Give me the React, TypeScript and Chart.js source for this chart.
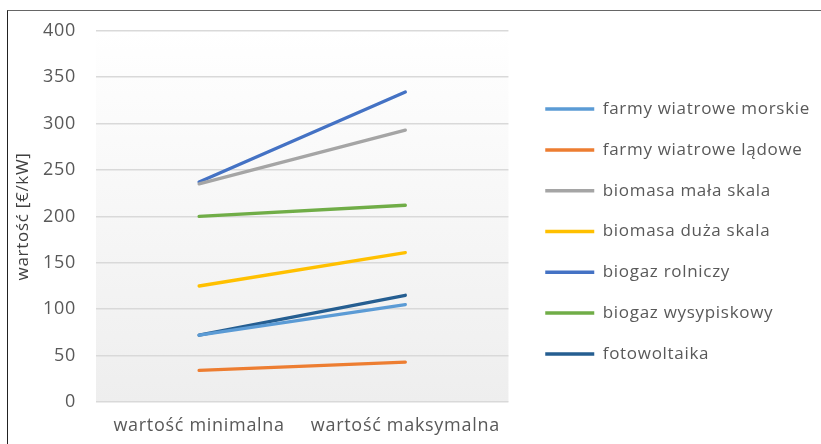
import React, { useEffect, useRef } from "react";
import { Chart, registerables } from "chart.js";

Chart.register(...registerables);

const categories = ["wartość minimalna", "wartość maksymalna"];
const seriesNames = [
  "farmy wiatrowe morskie",
  "farmy wiatrowe lądowe",
  "biomasa mała skala",
  "biomasa duża skala",
  "biogaz rolniczy",
  "biogaz wysypiskowy",
  "fotowoltaika",
];
const farmyMorskie = [72, 105];
const farmyLadowe = [34, 43];
const biomasaMala = [235, 293];
const biomasaDuza = [125, 161];
const biogazRolniczy = [237, 334];
const biogazWysypiskowy = [200, 212];
const fotowoltaika = [72, 115];
const seriesValues = [farmyMorskie, farmyLadowe, biomasaMala, biomasaDuza, biogazRolniczy, biogazWysypiskowy, fotowoltaika];
const seriesColors = ["#5B9BD5", "#ED7D31", "#A5A5A5", "#FFC000", "#4472C4", "#70AD47", "#255E91"];
const yTicks = [0, 50, 100, 150, 200, 250, 300, 350, 400];
const yTitle = "wartość [€/kW]";

const FONT = "'Open Sans', 'Noto Sans', sans-serif";

const spacingPlugin = {
  id: "letterSpacing",
  afterInit(chart: any) {
    chart.ctx.letterSpacing = "0.7px";
  },
  beforeLayout(chart: any) {
    chart.ctx.letterSpacing = "0.7px";
  },
  beforeDraw(chart: any) {
    chart.ctx.letterSpacing = "0.7px";
  },
};

const bgPlugin = {
  id: "plotBg",
  beforeDraw(chart: any) {
    const { ctx, chartArea } = chart;
    if (!chartArea) return;
    const g = ctx.createLinearGradient(0, chartArea.top, 0, chartArea.bottom);
    g.addColorStop(0, "#ffffff");
    g.addColorStop(1, "#eeeeee");
    ctx.save();
    ctx.fillStyle = g;
    ctx.fillRect(chartArea.left, chartArea.top, chartArea.right - chartArea.left, chartArea.bottom - chartArea.top);
    ctx.restore();
  },
};

export default function App() {
  const ref = useRef<HTMLCanvasElement>(null);
  useEffect(() => {
    if (!ref.current) return;
    const chart = new Chart(ref.current, {
      type: "line",
      data: {
        labels: categories,
        datasets: seriesNames.map((name, i) => ({
          label: name,
          data: seriesValues[i],
          borderColor: seriesColors[i],
          backgroundColor: seriesColors[i],
          borderWidth: 3.3,
          pointRadius: 0,
          tension: 0,
          borderCapStyle: "round" as const,
        })),
      },
      options: {
        animation: false,
        responsive: false,
        devicePixelRatio: 1,
        layout: { padding: { left: 13, top: 25, right: 1, bottom: 6 } },
        plugins: {
          tooltip: { enabled: false },
          legend: {
            position: "right",
            align: "center",
            maxWidth: 400,
            labels: {
              boxWidth: 49,
              boxHeight: 3.5,
              padding: 23.8,
              color: "#595959",
              font: { family: FONT, size: 17 },
              generateLabels: (c: any) =>
                Chart.defaults.plugins.legend.labels.generateLabels(c).map((l: any) => ({ ...l, lineWidth: 0 })),
            },
          },
        },
        scales: {
          x: {
            offset: true,
            grid: { display: false, drawTicks: false },
            border: { display: false },
            ticks: { color: "#595959", font: { family: FONT, size: 18 }, padding: 13, maxRotation: 0 },
            afterFit: (s: any) => {
              s.height = 36;
            },
          },
          y: {
            min: 0,
            max: 400,
            afterBuildTicks: (s: any) => {
              s.ticks = yTicks.map((v) => ({ value: v }));
            },
            grid: { color: "#d9d9d9", lineWidth: 1.5, drawTicks: false },
            border: { display: false },
            ticks: { color: "#595959", font: { family: FONT, size: 18 }, padding: 20 },
            title: { display: true, text: yTitle, color: "#404040", font: { family: FONT, size: 17 }, padding: 0 },
            afterFit: (s: any) => {
              s.width = 83;
            },
          },
          ySpacer: {
            position: "right",
            display: true,
            grid: { display: false, drawOnChartArea: false, drawTicks: false },
            border: { display: false },
            ticks: { display: false },
            afterFit: (s: any) => {
              s.width = 13;
            },
          },
        },
      },
      plugins: [spacingPlugin, bgPlugin],
    });
    return () => chart.destroy();
  }, []);
  return (
    <div style={{ position: "fixed", left: 0, top: 0, width: 821, height: 444, overflow: "hidden", background: "#fff" }}>
      <div style={{ position: "absolute", left: 7, top: 10, width: 830, height: 450, borderLeft: "1.5px solid #222", borderTop: "1.5px solid #666" }} />
      <canvas ref={ref} width={821} height={444} style={{ position: "absolute", left: 0, top: 0, width: 821, height: 444 }} />
    </div>
  );
}
